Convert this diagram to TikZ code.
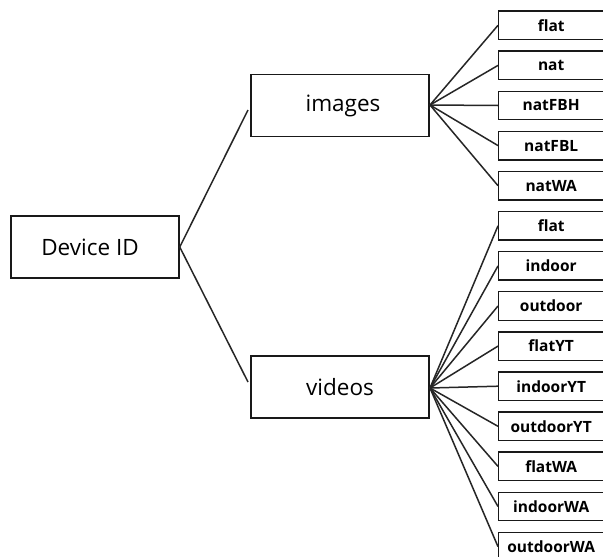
\documentclass[tikz,border=0pt]{standalone}
\usepackage{fontspec}
\setmainfont{Open Sans}
\begin{document}
\begin{tikzpicture}[x=1pt,y=-1pt,
  box/.style={draw=black!90,line width=1.5pt,fill=white,inner sep=0pt,
    minimum width=178pt,minimum height=62pt,font=\fontsize{22.5}{26}\selectfont},
  leaf/.style={draw=black!90,line width=1.4pt,fill=white,inner sep=0pt,anchor=west,
    minimum width=105pt,minimum height=28.5pt,font=\bfseries\fontsize{15.5}{18}\selectfont},
  link/.style={draw=black!85,line width=1.5pt}]
\useasboundingbox (0,0) rectangle (603,557);
\clip (0,0) rectangle (603,557);
\fill[white] (0,0) rectangle (603,557);

% root and the two groups
\node[box,minimum width=168pt] (dev) at (95,247) {\hspace*{-10pt}Device ID};
\node[box] (img) at (340,105.5) {\hspace*{6pt}images};
\node[box] (vid) at (340,387) {videos};

\coordinate (imgin) at (248,110);
\coordinate (vidin) at (248,382);
\coordinate (imghub) at (430,105);
\coordinate (vidhub) at (430,388);

\draw[link] (dev.east) -- (imgin);
\draw[link] (dev.east) -- (vidin);

% leaves of "images"
\foreach \t [count=\i from 0] in {flat,nat,natFBH,natFBL,natWA}{
  \node[leaf] (i\i) at (498,25.3+40.1*\i) {\t};
  \draw[link] (imghub) -- (i\i.west);
}
% leaves of "videos"
\foreach \t [count=\i from 0] in {flat,indoor,outdoor,flatYT,indoorYT,outdoorYT,flatWA,indoorWA,outdoorWA}{
  \node[leaf] (v\i) at (498,225.8+40.1*\i) {\t};
  \draw[link] (vidhub) -- (v\i.west);
}
\end{tikzpicture}
\end{document}
